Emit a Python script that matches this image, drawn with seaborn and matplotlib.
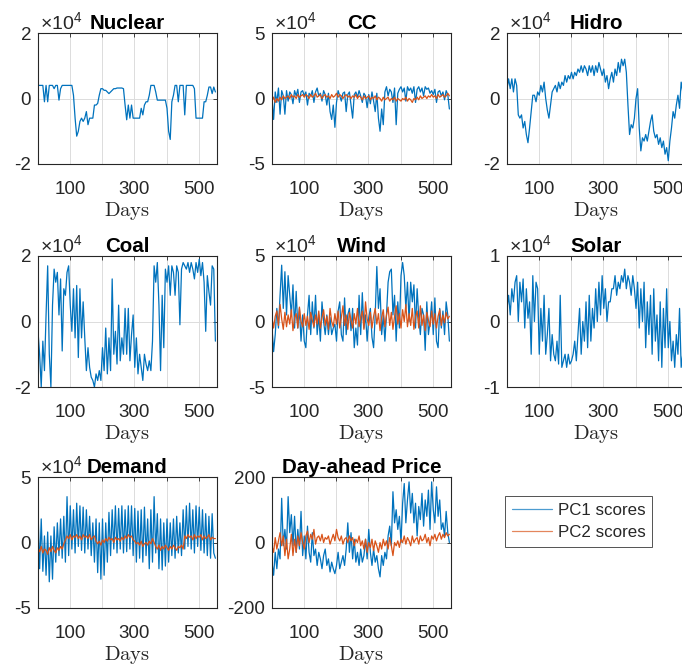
import numpy as np
import matplotlib
matplotlib.use("Agg")
import matplotlib.pyplot as plt
from matplotlib.lines import Line2D
import seaborn as sns

# ---------------- data (PC scores) ----------------
days = np.arange(1, 556, 5)  # day index of each sample

# values in units of 10^4 (except price)
nuclear = [0.4,0.4,0.4,0.4,-0.1,0.4,-0.1,0.4,0.4,0.4,
           0.3,0.4,0.4,-0.05,0.3,0.4,0.4,0.4,0.4,0.4,
           0.4,0.4,0.1,-0.6,-1.15,-1.0,-0.7,-0.6,-0.7,-0.6,
           -0.4,-0.8,-0.6,-0.6,-0.6,-0.2,-0.2,-0.15,0.1,0.3,
           0.3,0.25,0.25,0.2,0.15,0.2,0.25,0.3,0.3,0.32,
           0.32,0.32,0.32,0.3,-0.2,-0.65,-0.2,-0.6,-0.2,-0.6,
           -0.6,-0.6,-0.6,-0.6,-0.3,-0.5,-0.2,-0.1,-0.1,0.1,
           0.4,0.4,0.4,0.2,-0.05,-0.05,-0.05,-0.05,-0.05,-0.05,
           -0.3,-1.0,-1.25,-0.1,0.1,0.4,0.4,-0.1,0.4,0.4,
           0.4,-0.5,0.4,0.4,0.4,0.4,0.4,0.3,-0.6,-0.6,
           -0.6,-0.6,-0.6,-0.1,-0.1,0.1,0.35,0.35,0.15,0.35,
           0.2]

cc_pc1 = [0.0,-1.6,0.5,-0.3,0.8,-1.2,0.6,0.2,-1.2,0.6,
          -0.2,0.5,0.3,-0.4,0.6,0.2,0.7,-0.3,0.5,0.6,
          0.2,0.5,-0.5,0.4,0.2,0.6,-0.3,0.5,0.8,0.2,
          0.4,-0.2,0.6,0.3,-0.5,0.4,-1.0,-1.6,-0.5,-2.2,
          -0.3,0.6,0.2,-0.2,0.4,0.5,-1.0,0.3,0.5,-0.5,
          -1.5,0.3,0.5,0.1,0.6,0.2,-0.3,0.4,0.2,-0.7,
          0.3,-0.4,0.5,-0.2,-1.0,0.4,-1.5,-2.5,-0.8,-2.0,
          0.5,0.9,0.2,0.7,0.5,-0.3,0.8,-2.0,0.4,0.7,
          0.9,0.5,0.8,-0.2,0.9,0.6,0.8,0.4,0.9,-0.3,
          0.7,0.9,0.5,0.8,0.2,0.9,0.7,0.8,0.4,0.6,
          0.3,0.7,-0.3,0.5,0.6,0.2,0.5,-0.1,0.6,0.3,
          -0.8]
cc_pc2 = [-0.2,0.1,-0.3,0.0,-0.2,0.1,-0.1,0.2,0.0,0.1,
          0.2,0.0,0.3,0.1,0.2,0.0,0.3,0.1,0.2,0.3,
          0.1,0.3,0.2,0.0,0.3,0.1,0.2,0.4,0.1,0.2,
          0.3,0.0,0.2,0.3,0.1,0.2,0.0,0.3,0.1,0.2,
          0.4,0.1,0.3,0.2,0.0,0.2,0.3,0.1,0.2,0.0,
          0.2,0.1,0.3,0.0,0.2,0.1,-0.1,0.2,0.0,0.1,
          0.2,-0.1,0.1,0.0,0.2,-0.1,0.1,0.0,-0.2,0.1,
          -0.1,0.0,0.1,-0.2,0.0,-0.1,0.1,-0.2,0.0,-0.1,
          -0.2,0.0,-0.1,0.1,-0.2,0.0,-0.1,-0.3,0.0,-0.1,
          0.1,-0.1,0.2,0.0,0.1,0.2,0.0,0.2,0.1,0.3,
          0.1,0.2,0.0,0.3,0.1,0.2,0.3,0.1,0.2,0.4,
          0.2]

hidro = [0.3,0.6,0.3,0.6,0.2,0.6,0.4,-0.5,-0.6,-0.5,
         -0.9,-0.7,-1.1,-1.35,-0.9,-0.4,0.1,0.1,-0.1,0.2,
         0.1,0.4,0.2,0.5,0.0,-0.35,-0.6,-0.2,0.2,0.3,
         0.4,0.2,0.5,0.3,0.5,0.4,0.7,0.5,0.7,0.6,
         0.8,0.6,0.8,0.7,0.9,0.8,1.0,0.8,1.0,0.9,
         0.7,1.0,0.8,1.0,0.7,1.0,0.8,1.1,0.9,0.7,
         0.9,0.5,0.7,0.3,0.6,0.8,0.5,0.9,0.7,1.1,
         0.8,1.2,1.0,1.2,0.8,-0.2,-1.1,-0.8,-0.9,-0.6,
         0.0,0.3,-0.9,-1.6,-1.2,-1.3,-1.1,-1.3,-1.0,-0.7,
         -0.5,-1.0,-1.2,-1.1,-1.4,-1.2,-1.5,-1.3,-1.7,-1.5,
         -1.9,-1.3,-0.9,-0.4,-0.6,-0.2,0.1,-0.3,0.5,0.2,
         0.6]

coal = [-0.3,-1.0,-2.0,-0.6,-1.5,0.2,1.7,-1.0,-2.0,0.5,
        1.6,1.2,1.5,0.2,1.3,-0.9,1.0,0.8,1.5,1.7,
        0.5,-0.3,1.0,-0.5,1.1,-1.1,1.0,-0.5,0.6,-0.5,
        -1.5,-0.8,-1.4,-1.7,-1.8,-2.0,-1.6,-1.8,-1.5,-1.8,
        -0.8,-1.5,-0.2,-1.6,-0.5,-1.5,1.3,-1.0,-0.3,-1.3,
        0.5,-1.2,-0.5,-1.0,0.4,-1.0,0.4,-1.2,-0.4,0.2,
        -1.4,-0.5,-1.6,-1.0,-1.4,-1.8,-1.0,-1.3,-1.5,-1.2,
        -1.5,-0.6,1.7,1.2,1.8,0.5,-1.5,0.8,-0.8,1.6,
        1.2,1.7,0.8,1.7,1.5,0.8,1.7,1.5,-0.1,1.6,
        1.8,1.7,1.6,1.8,1.5,1.8,1.6,1.3,1.8,1.5,
        1.9,1.4,1.8,1.2,-0.3,1.4,0.9,0.5,1.7,1.6,
        -0.6]

wind_pc1 = [-0.5,-2.3,-1.0,1.0,-0.5,2.0,4.3,1.0,3.8,0.5,
            3.5,2.0,0.5,2.8,-0.5,2.3,-0.5,1.0,-1.5,0.5,
            -1.5,-2.0,0.5,2.0,-1.0,1.5,-0.5,2.0,-1.0,0.5,
            -1.5,1.5,0.0,-1.0,0.5,-1.0,0.3,-1.0,-0.5,-0.2,
            -1.5,0.8,1.5,-1.0,-1.5,1.8,-1.0,0.5,1.0,-0.7,
            1.0,-2.0,-0.5,-1.8,2.0,-1.0,2.2,-0.5,0.5,-1.5,
            0.3,1.0,-1.2,-2.0,0.5,4.2,1.0,2.5,-1.0,0.5,
            -1.5,0.5,3.0,3.8,4.0,0.5,2.0,-1.5,1.5,-0.5,
            3.5,4.5,3.5,1.0,3.0,0.0,3.0,1.5,2.8,-0.5,
            2.5,0.3,-1.0,1.0,0.5,-2.2,1.5,-1.0,0.0,1.5,
            -1.0,1.8,-1.5,-2.0,1.0,-0.5,0.8,-1.0,1.5,0.5,
            -1.5]
wind_pc2 = [0.3,-0.5,0.4,0.8,-0.3,1.3,0.2,-0.6,0.7,-0.4,
            0.5,-0.2,0.9,-0.7,0.3,0.6,-0.5,1.1,0.0,-0.4,
            0.6,-0.3,0.4,-0.6,0.7,0.1,-0.4,0.5,-0.2,0.8,
            -0.5,0.3,0.9,-0.3,0.4,-0.6,1.0,0.0,-0.4,0.6,
            -0.2,0.8,-0.5,0.3,1.2,-0.3,0.5,-0.6,0.7,0.1,
            -0.5,0.6,-0.2,1.0,-0.4,0.3,0.8,-0.6,1.5,0.2,
            -0.3,0.7,-0.5,0.4,1.0,-0.2,0.6,-0.7,0.3,0.9,
            -0.4,0.5,1.1,-0.3,0.7,-0.6,0.4,1.2,-0.2,0.6,
            -0.5,0.9,0.0,1.3,-0.4,0.6,-0.3,1.0,-0.6,0.4,
            0.8,-0.5,1.2,-0.3,0.5,-0.7,0.7,0.1,-0.4,0.8,
            -0.2,0.6,-0.5,0.4,0.9,-0.3,0.5,-0.1,0.7,0.2,
            0.4]

solar = [0.2,0.4,0.1,0.5,0.3,0.6,0.7,0.0,0.6,0.3,
         0.65,-0.1,0.5,0.05,0.3,-0.5,0.7,0.0,0.6,0.5,
         -0.5,0.2,-0.3,0.4,-0.5,-0.2,0.2,-0.6,-0.2,-0.5,
         -0.6,-0.3,-0.65,0.4,-0.7,-0.6,-0.5,-0.7,-0.5,-0.65,
         -0.6,-0.5,-0.3,-0.6,-0.2,0.2,-0.5,0.0,-0.3,0.3,
         -0.4,0.4,-0.3,0.2,-0.1,0.5,0.0,0.6,0.1,0.7,
         0.2,0.5,0.0,0.3,0.3,0.5,0.5,0.7,0.4,0.6,
         0.5,0.7,0.6,0.8,0.5,0.7,0.6,0.4,0.7,0.5,
         0.2,0.6,-0.1,0.5,0.0,0.6,-0.4,0.3,-0.2,0.4,
         -0.5,0.5,-0.3,0.1,-0.6,0.3,-0.7,0.2,-0.4,0.5,
         -0.4,0.0,-0.6,-0.3,-0.7,-0.2,-0.5,0.2,-0.7,-0.5,
         -0.6]

demand_pc1 = [2.5,-2.0,1.8,-2.2,0.5,-2.5,0.8,-3.0,0.5,-2.8,
              1.2,-1.5,1.5,-1.0,1.8,-1.2,2.0,-1.5,3.5,-1.0,
              2.8,-0.5,2.5,-0.8,3.0,-0.3,2.8,-0.6,2.7,-0.8,
              2.5,-0.5,2.0,-1.0,1.5,-1.5,1.8,-2.3,1.5,-2.8,
              1.8,-2.5,1.5,-1.5,2.3,-1.0,2.5,-0.5,2.8,-0.8,
              2.6,-0.5,2.8,-0.8,2.5,-0.7,2.8,-0.5,2.8,-1.0,
              2.6,-1.5,2.4,-1.2,2.5,-1.5,2.7,-1.0,1.8,-2.0,
              2.5,-1.5,3.5,-0.8,2.2,-2.0,1.8,-2.1,1.5,-1.8,
              1.8,-1.5,1.5,-1.0,1.8,-1.2,2.0,-0.8,1.5,-1.0,
              2.5,-0.5,2.8,-0.3,3.0,-0.5,2.5,-0.8,2.8,-0.3,
              2.7,-0.6,2.5,-0.8,2.2,-1.0,2.0,-1.2,2.2,-0.8,
              -1.2]
demand_pc2 = [-0.4,-0.7,-0.3,-0.8,-0.5,-0.6,-0.9,-0.4,-0.7,-0.3,
              -0.6,-0.8,-0.4,-0.6,-0.3,-0.5,-0.1,0.2,0.5,0.3,
              0.6,0.2,0.5,0.4,0.6,0.3,0.5,0.2,0.6,0.4,
              0.5,0.3,0.6,0.2,0.4,0.5,0.1,-0.1,0.1,-0.2,
              0.2,0.0,0.3,0.1,0.4,0.2,0.3,0.0,0.4,0.2,
              0.3,0.1,0.4,0.2,0.5,0.3,0.6,0.4,0.5,0.2,
              0.1,-0.1,0.0,-0.2,0.1,-0.3,-0.1,0.0,-0.2,0.1,
              -0.1,0.3,0.0,-0.3,-0.5,-0.2,-0.6,-0.3,-0.5,-0.2,
              -0.4,-0.6,-0.3,-0.5,-0.2,-0.4,-0.6,-0.3,-0.4,-0.2,
              -0.5,0.5,0.3,0.6,0.4,0.5,0.2,0.6,0.3,0.5,
              0.4,0.6,0.2,0.5,0.3,0.4,0.6,0.2,0.4,0.3,
              0.3]

price_pc1 = [-60,-100,-30,-80,-20,-50,135,-10,40,-20,
             140,30,85,-10,80,-30,40,-20,95,-40,
             20,-50,50,-30,-60,30,-40,-20,-70,-30,
             -50,-80,-40,-20,-70,-50,-90,-60,-80,-95,
             -70,-30,-80,-60,-40,-70,-20,60,-30,30,
             -50,10,-60,-30,-70,-20,-60,-40,10,-50,
             40,-30,-70,-20,-60,-40,-80,-105,-40,-70,
             -30,-50,20,50,-10,155,60,100,40,80,
             0,120,180,60,130,185,90,150,60,120,
             20,110,70,150,50,130,80,160,40,185,
             100,60,170,80,130,40,60,20,95,30,
             0]
price_pc2 = [-10,-30,15,-20,5,30,-10,20,-40,10,
             -50,-20,25,-40,10,-30,20,-10,30,0,
             -20,20,35,0,25,10,40,-5,15,20,
             5,25,0,15,10,20,-5,10,25,5,
             40,15,5,20,-5,10,15,0,20,5,
             15,-10,10,0,20,-10,5,-20,10,-30,
             0,-15,10,-25,5,-10,-30,0,-20,10,
             -10,5,-20,15,-10,-40,0,-10,5,-15,
             10,0,20,-5,15,5,-10,20,0,10,
             15,-5,20,5,10,25,0,15,-10,20,
             10,25,5,20,30,10,25,15,30,20,
             25]

titles = ["Nuclear", "CC", "Hidro", "Coal", "Wind", "Solar", "Demand", "Day-ahead Price"]
xtick_vals = [100, 200, 300, 400, 500]
xtick_labels = ["100", "", "300", "", "500"]
legend_labels = ["PC1 scores", "PC2 scores"]

# ---------------- style ----------------
sns.set_theme(style="white")
plt.rcParams.update({
    "font.family": ["Liberation Sans", "DejaVu Sans"],
    "axes.unicode_minus": False,
    "mathtext.fontset": "custom",
    "mathtext.rm": "Liberation Sans",
    "mathtext.it": "Liberation Sans:italic",
    "mathtext.bf": "Liberation Sans:bold",
})

BLUE = "#0072BD"
ORANGE = "#D95319"
DARK = "#262626"
GRID = "#dcdcdc"

W, H = 682, 665
fig = plt.figure(figsize=(W / 100, H / 100), dpi=100)

col_x = [38, 272, 507]
row_y = [33, 256, 477]
AW, AH = 179, 131

panels = [
    (nuclear, None, 2, 1e4),
    (cc_pc1, cc_pc2, 5, 1e4),
    (hidro, None, 2, 1e4),
    (coal, None, 2, 1e4),
    (wind_pc1, wind_pc2, 5, 1e4),
    (solar, None, 1, 1e4),
    (demand_pc1, demand_pc2, 5, 1e4),
    (price_pc1, price_pc2, 200, 1),
]

for k, (pc1, pc2, lim, scale) in enumerate(panels):
    r, c = divmod(k, 3)
    x0, y0 = col_x[c], row_y[r]
    ax = fig.add_axes([x0 / W, 1 - (y0 + AH) / H, AW / W, AH / H])
    sns.lineplot(x=days, y=np.asarray(pc1, dtype=float) * scale, ax=ax,
                 color=BLUE, linewidth=0.9, sort=False)
    if pc2 is not None:
        sns.lineplot(x=days, y=np.asarray(pc2, dtype=float) * scale, ax=ax,
                     color=ORANGE, linewidth=0.9, sort=False)
    ax.set_xlim(1, 556)
    ax.set_ylim(-lim * scale, lim * scale)
    ax.set_xticks(xtick_vals)
    ax.set_xticklabels(xtick_labels)
    ax.set_yticks([-lim * scale, 0, lim * scale])
    ax.set_yticklabels([f"-{lim:g}", "0", f"{lim:g}"])
    ax.grid(True, color=GRID, linewidth=0.7)
    ax.set_axisbelow(True)
    for s in ax.spines.values():
        s.set_color(DARK)
        s.set_linewidth(0.8)
    ax.tick_params(axis="both", direction="in", length=3, width=0.6,
                   top=True, right=True, colors=DARK, labelsize=13.5,
                   labelcolor=DARK)
    ax.tick_params(axis="x", pad=12)
    ax.tick_params(axis="y", pad=5)
    ax.set_ylabel("")
    ax.set_xlabel(r"$\mathrm{Days}$", math_fontfamily="cm", fontsize=14.8,
                  labelpad=2, color=DARK)
    ax.set_title(titles[k], fontweight="bold", fontsize=14.8, pad=3, color="black")
    if scale != 1:
        ax.text(0.01, 1.0, r"$\times\mathregular{10^{4}}$", transform=ax.transAxes,
                ha="left", va="bottom", fontsize=14, color=DARK)
    if ax.get_legend() is not None:
        ax.get_legend().remove()

handles = [Line2D([0], [0], color=BLUE, linewidth=0.9, alpha=0.7),
           Line2D([0], [0], color=ORANGE, linewidth=0.9, alpha=0.7)]
leg = fig.legend(handles, legend_labels, loc="upper left",
                 bbox_to_anchor=(505 / W, 1 - 496 / H), fontsize=12.2,
                 frameon=True, fancybox=False, edgecolor=DARK,
                 handlelength=2.4, handletextpad=0.3, borderpad=0.4,
                 labelspacing=0.45, borderaxespad=0)
leg.get_frame().set_linewidth(0.7)

fig.savefig("out.png", dpi=100)
